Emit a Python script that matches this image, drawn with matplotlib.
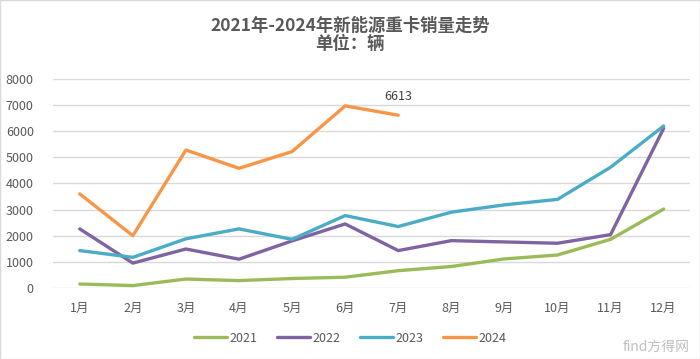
import matplotlib.pyplot as plt
from matplotlib.patches import Rectangle

plt.rcParams['font.family'] = ['Noto Sans CJK SC', 'DejaVu Sans']

# 数据
months = ['1月', '2月', '3月', '4月', '5月', '6月', '7月', '8月', '9月', '10月', '11月', '12月']
y2021 = [150, 90, 340, 280, 360, 410, 660, 820, 1110, 1260, 1860, 3020]
y2022 = [2260, 950, 1490, 1100, 1800, 2450, 1430, 1810, 1760, 1710, 2040, 6110]
y2023 = [1430, 1170, 1880, 2260, 1860, 2770, 2350, 2900, 3180, 3390, 4620, 6200]
y2024 = [3600, 2000, 5280, 4580, 5220, 6970, 6613]

colors = {'2021': '#9BBB59', '2022': '#8064A2', '2023': '#4BACC6', '2024': '#F79646'}
grey = '#595959'

fig = plt.figure(figsize=(7, 3.59), dpi=100)
ax = fig.add_axes([0.076, 0.198, 0.91, 0.582])

x = list(range(len(months)))
ax.plot(x, y2021, color=colors['2021'], lw=2.4, label='2021', solid_capstyle='round')
ax.plot(x, y2022, color=colors['2022'], lw=2.4, label='2022', solid_capstyle='round')
ax.plot(x, y2023, color=colors['2023'], lw=2.4, label='2023', solid_capstyle='round')
ax.plot(x[:len(y2024)], y2024, color=colors['2024'], lw=2.4, label='2024', solid_capstyle='round')

# 最后一个点的数据标签
ax.annotate(str(y2024[-1]), (len(y2024) - 1, y2024[-1]), xytext=(0, 9),
            textcoords='offset points', ha='center', va='bottom', fontsize=9, color='#404040')

ax.set_ylim(0, 8000)
ax.set_yticks(range(0, 8001, 1000))
ax.set_xlim(-0.5, len(months) - 0.5)
ax.set_xticks(x)
ax.set_xticklabels(months)
ax.grid(axis='y', color='#D9D9D9', lw=1)
ax.set_axisbelow(True)
for s in ax.spines.values():
    s.set_visible(False)
ax.tick_params(length=0, labelsize=9, colors=grey, pad=10)
ax.tick_params(axis='y', pad=14)

fig.text(0.5, 0.927, '2021年-2024年新能源重卡销量走势', ha='center', va='center',
         fontsize=12.5, fontweight='bold', color=grey)
fig.text(0.5, 0.877, '单位：辆', ha='center', va='center',
         fontsize=12.5, fontweight='bold', color=grey)

fig.legend(loc='center', bbox_to_anchor=(0.5, 0.058), ncol=4, frameon=False,
           fontsize=9, labelcolor=grey, handlelength=2.6, handletextpad=0.2, columnspacing=1.6)

fig.text(0.985, 0.035, 'find方得网', ha='right', va='center', fontsize=10, color='#BFBFBF')
fig.add_artist(Rectangle((0, 0), 1, 1, transform=fig.transFigure, fill=False,
                         edgecolor='#D9D9D9', lw=1))

fig.savefig('out.png', dpi=100)
